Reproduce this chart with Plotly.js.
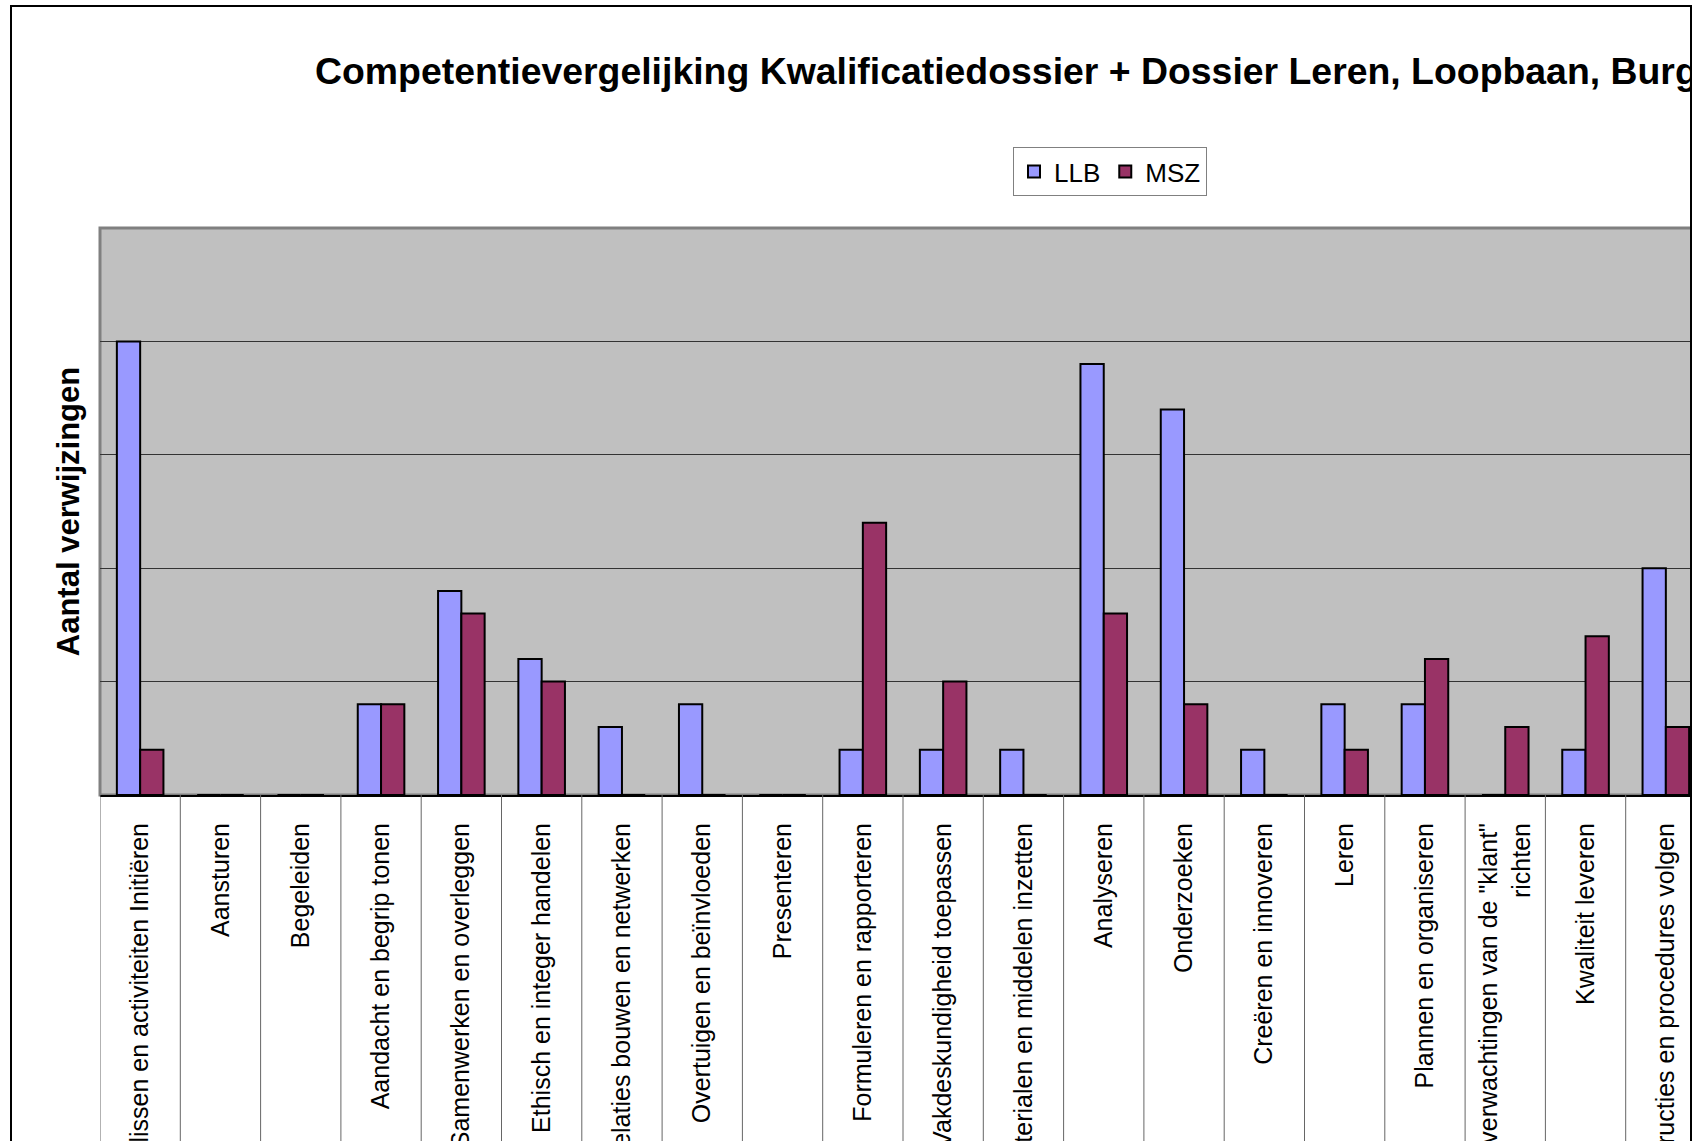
<!DOCTYPE html>
<html>
<head>
<meta charset="utf-8">
<script src="https://cdn.plot.ly/plotly-3.0.1.min.js"></script>
<style>
  html, body { margin: 0; padding: 0; background: #ffffff; overflow: hidden; }
  #clip { position: absolute; left: 0; top: 0; width: 1692px; height: 1141px; overflow: hidden; background: #ffffff; }
  #chart { position: absolute; left: 0; top: 0; width: 1800px; height: 1400px; }
  #frame { position: absolute; left: 10px; top: 5px; width: 1682px; height: 1400px; box-sizing: border-box; border: 2px solid #000000; pointer-events: none; }
</style>
</head>
<body>
<div id="clip"><div id="chart"></div></div>
<div id="frame"></div>
<script>
// ---- data ----
const categories = [
  'Beslissen en activiteiten Initiëren',
  'Aansturen',
  'Begeleiden',
  'Aandacht en begrip tonen',
  'Samenwerken en overleggen',
  'Ethisch en integer handelen',
  'Relaties bouwen en netwerken',
  'Overtuigen en beïnvloeden',
  'Presenteren',
  'Formuleren en rapporteren',
  'Vakdeskundigheid toepassen',
  'Materialen en middelen inzetten',
  'Analyseren',
  'Onderzoeken',
  'Creëren en innoveren',
  'Leren',
  'Plannen en organiseren',
  'Op de behoeften en verwachtingen van de "klant" richten',
  'Kwaliteit leveren',
  'Instructies en procedures volgen'
];
const tickLabels = [
  'Beslissen en activiteiten Initiëren',
  'Aansturen',
  'Begeleiden',
  'Aandacht en begrip tonen',
  'Samenwerken en overleggen',
  'Ethisch en integer handelen',
  'Relaties bouwen en netwerken',
  'Overtuigen en beïnvloeden',
  'Presenteren',
  'Formuleren en rapporteren',
  'Vakdeskundigheid toepassen',
  'Materialen en middelen inzetten',
  'Analyseren',
  'Onderzoeken',
  'Creëren en innoveren',
  'Leren',
  'Plannen en organiseren',
  'Op de behoeften en verwachtingen van de "klant"<br>richten',
  'Kwaliteit leveren',
  'Instructies en procedures volgen'
];
const llb = [20, 0, 0, 4, 9, 6, 3, 4, 0, 2, 2, 2, 19, 17, 2, 4, 4, 0, 2, 10];
const msz = [2, 0, 0, 4, 8, 5, 0, 0, 0, 12, 5, 0, 8, 4, 0, 2, 6, 3, 7, 3];
const seriesNames = ['LLB', 'MSZ'];
const titleText = 'Competentievergelijking Kwalificatiedossier + Dossier Leren, Loopbaan, Burgerschap';
const yTitleText = 'Aantal verwijzingen';

// ---- chart ----
const FONT = 'Arial, "Liberation Sans", sans-serif';
const W = 1800, H = 1400;

const traces = [
  { type: 'bar', name: seriesNames[0], x: categories, y: llb,
    marker: { color: '#9999FF', line: { color: '#000000', width: 2 } } },
  { type: 'bar', name: seriesNames[1], x: categories, y: msz,
    marker: { color: '#993366', line: { color: '#000000', width: 2 } } }
];

const shapes = [
  { type: 'rect', xref: 'paper', yref: 'paper', x0: 0, x1: 1, y0: 0, y1: 1,
    line: { color: '#808080', width: 3 }, layer: 'below' }
];
for (let i = 0; i <= categories.length; i++) {
  shapes.push({ type: 'line', xref: 'x', yref: 'paper', x0: i - 0.5, x1: i - 0.5, y0: 0, y1: -1.2,
    line: { color: '#666666', width: 1 } });
}

const layout = {
  width: W, height: H,
  margin: { l: 100, r: 94, t: 228, b: 605, pad: 0 },
  paper_bgcolor: '#ffffff',
  plot_bgcolor: '#C0C0C0',
  font: { family: FONT, color: '#000000' },
  title: {
    text: '<b>' + titleText + '</b>',
    font: { family: FONT, size: 37.4, color: '#000000' },
    xref: 'container', x: 315 / W, xanchor: 'left',
    yref: 'container', y: 1 - 71 / H, yanchor: 'middle'
  },
  barmode: 'group',
  bargap: 0.42,
  bargroupgap: 0,
  showlegend: true,
  legend: {
    orientation: 'h',
    x: (1013 - 100) / 1606, xanchor: 'left',
    y: (795 - 147) / 567, yanchor: 'top',
    font: { family: FONT, size: 26, color: '#000000' },
    bgcolor: '#ffffff', bordercolor: '#808080', borderwidth: 1,
    itemwidth: 30, traceorder: 'normal'
  },
  xaxis: {
    type: 'category',
    range: [-0.5, categories.length - 0.5],
    tickmode: 'array', tickvals: categories, ticktext: tickLabels,
    tickangle: -90,
    tickfont: { family: FONT, size: 25, color: '#000000' },
    ticks: '', ticklabelstandoff: 16,
    showline: true, linecolor: '#000000', linewidth: 2,
    showgrid: false, zeroline: false, fixedrange: true
  },
  yaxis: {
    range: [0, 25], dtick: 5, tick0: 0,
    showticklabels: false, ticks: '',
    showgrid: true, gridcolor: '#333333', gridwidth: 1,
    zeroline: false, showline: false, fixedrange: true,
    title: { text: '<b>' + yTitleText + '</b>', font: { family: FONT, size: 31, color: '#000000' }, standoff: 10 }
  },
  shapes: shapes
};

Plotly.newPlot('chart', traces, layout, { displayModeBar: false, staticPlot: true });
</script>
</body>
</html>
